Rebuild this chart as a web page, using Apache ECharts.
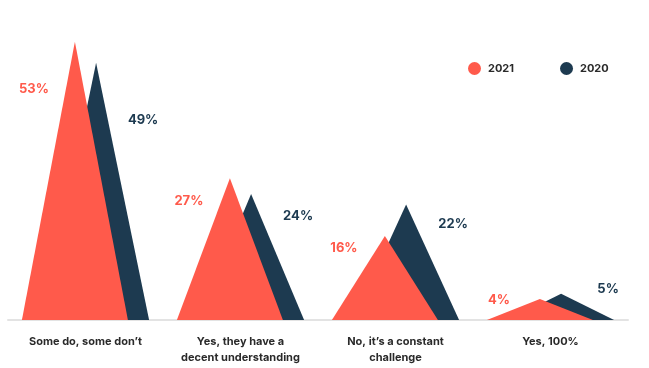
<!DOCTYPE html>
<html><head><meta charset="utf-8">
<script src="https://cdn.jsdelivr.net/npm/echarts@6/dist/echarts.min.js"></script>
<style>html,body{margin:0;padding:0;background:#fff}#c{width:649px;height:368px}</style>
</head><body><div id="c"></div>
<script>
const categories = ['Some do, some don\u2019t', 'Yes, they have a\ndecent understanding', 'No, it\u2019s a constant\nchallenge', 'Yes, 100%'];
const values2021 = [53, 27, 16, 4];
const values2020 = [49, 24, 22, 5];
const seriesNames = ['2021', '2020'];

const RED = '#FF5A4B', NAVY = '#1D3A50';
const FONT = 'Inter';
const tri = 'path://M50,0 L100,100 L0,100 Z';

const chart = echarts.init(document.getElementById('c'), null, {renderer: 'canvas'});
chart.setOption({
  animation: false,
  backgroundColor: '#fff',
  grid: {left: 8, right: 21, top: 5, bottom: 48},
  legend: {
    data: seriesNames, top: 57, left: 463, icon: 'circle', itemWidth: 13, itemHeight: 13, itemGap: 46,
    textStyle: {fontFamily: FONT, fontWeight: 700, fontSize: 11, color: '#2a2a2a', padding: [0, 0, 0, 2]}
  },
  xAxis: {
    type: 'category', data: categories,
    axisLine: {lineStyle: {color: '#e3e3e3', width: 2}},
    axisTick: {show: false},
    axisLabel: {margin: 14, fontFamily: FONT, fontWeight: 700, fontSize: 11, color: '#2a2a2a', lineHeight: 16, interval: 0}
  },
  yAxis: {type: 'value', min: 0, max: 60, show: false, splitLine: {show: false}},
  series: [
    {
      name: seriesNames[0], type: 'pictorialBar', symbol: tri, barWidth: 106, barGap: '-80%', z: 3,
      itemStyle: {color: RED}, data: values2021,
      label: {show: true, position: [12, '18%'], offset: [0, -3], align: 'center', verticalAlign: 'middle',
        formatter: '{c}%', fontFamily: FONT, fontWeight: 700, fontSize: 13, color: RED}
    },
    {
      name: seriesNames[1], type: 'pictorialBar', symbol: tri, barWidth: 106, barGap: '-80%', z: 2,
      itemStyle: {color: NAVY}, data: values2020,
      label: {show: true, position: [100, '27%'], offset: [0, -12], align: 'center', verticalAlign: 'middle',
        formatter: '{c}%', fontFamily: FONT, fontWeight: 700, fontSize: 13, color: NAVY}
    }
  ]
});
</script></body></html>
